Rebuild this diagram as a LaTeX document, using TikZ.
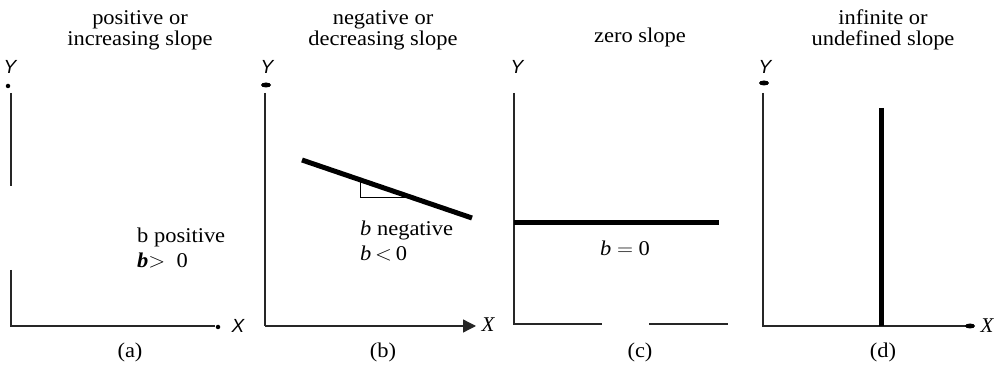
\documentclass[tikz,border=0pt]{standalone}
\usepackage{amsmath}
\usepackage{fontspec}
\setmainfont{Liberation Serif}
\newfontfamily\axfont{Liberation Sans}
\usepackage{graphicx}
\usetikzlibrary{arrows.meta,shapes.geometric}
\newcommand{\wt}[1]{\scalebox{1.07}[1]{#1}}
\begin{document}
\begin{tikzpicture}[x=1pt,y=-1pt,
  axis/.style={line width=1.3pt, draw=black!85},
  heavy/.style={line width=5pt},
  txt/.style={font=\fontsize{21}{23}\selectfont, inner sep=0pt, anchor=base},
  axlbl/.style={font=\axfont\itshape\fontsize{19}{21}\selectfont, inner sep=0pt},
  serlbl/.style={font=\itshape\fontsize{21}{23}\selectfont, inner sep=0pt},
  dotsmall/.style={fill=black, circle, inner sep=0pt, minimum size=4.5pt},
  dotwide/.style={fill=black, ellipse, inner sep=0pt, minimum width=10pt, minimum height=5pt}]
\useasboundingbox (0,0) rectangle (997,366);
% ---------- (a)
\node[txt] (ta1) at (140,25) {\wt{positive or}};
\node[txt] (ta2) at (140,46) {\wt{increasing slope}};
\node[axlbl] (ya) at (10,67) {Y};
\node[dotsmall] (yda) at (8,86) {};
\coordinate (a1) at (11,93);
\coordinate (a2) at (11,186);
\coordinate (a3) at (11,270);
\coordinate (o-a) at (11,326);
\coordinate (xa) at (215,326);
\draw[axis] (a1) -- (a2);
\draw[axis] (a3) -- (o-a) -- (xa);
\node[dotsmall] (xda) at (218,327) {};
\node[axlbl] (xla) at (238,326) {X};
\node[txt,anchor=base west] (pa1) at (137,243) {\wt{b positive}};
\node[txt,anchor=base west] (pa2) at (137,268) {\wt{\textbf{\textit{b}}$>$\ \ 0}};
\node[txt] (ca) at (130,358) {\wt{(a)}};
% ---------- (b)
\node[txt] (tb1) at (383,25) {\wt{negative or}};
\node[txt] (tb2) at (383,46) {\wt{decreasing slope}};
\node[axlbl] (yb) at (267,67) {Y};
\node[dotwide] (ydb) at (266,85) {};
\coordinate (b1) at (265,93);
\coordinate (o-b) at (265,326);
\coordinate (xb) at (476,326);
\draw[axis] (b1) -- (o-b);
\draw[axis,-{Triangle[length=13pt,width=13pt]}] (o-b) -- (xb);
\node[serlbl] (xlb) at (488,325) {X};
\coordinate (lb1) at (302,160);
\coordinate (lb2) at (472,218);
\draw[heavy] (lb1) -- (lb2);
\coordinate (tr1) at (360,180);
\coordinate (tr2) at (360,198);
\coordinate (tr3) at (413,198);
\draw[line width=1pt] (tr1) -- (tr2) -- (tr3);
\node[txt,anchor=base west] (nb1) at (360,236) {\wt{\textit{b} negative}};
\node[txt,anchor=base west] (nb2) at (360,261) {\wt{\textit{b}\,$<$\,0}};
\node[txt] (cb) at (383,358) {\wt{(b)}};
% ---------- (c)
\node[txt] (tc1) at (640,43) {\wt{zero slope}};
\node[axlbl] (yc) at (517,67) {Y};
\coordinate (c1) at (514,93);
\coordinate (o-c) at (514,324);
\coordinate (xc1) at (602,324);
\coordinate (xc2) at (649,324);
\coordinate (xc3) at (728,324);
\draw[axis] (c1) -- (o-c) -- (xc1);
\draw[axis] (xc2) -- (xc3);
\coordinate (lc1) at (514,223);
\coordinate (lc2) at (719,223);
\draw[heavy] (lc1) -- (lc2);
\node[txt] (nc) at (625,256) {\wt{\textit{b} $=$ 0}};
\node[txt] (cc) at (640,358) {\wt{(c)}};
% ---------- (d)
\node[txt] (td1) at (883,25) {\wt{infinite or}};
\node[txt] (td2) at (883,46) {\wt{undefined slope}};
\node[axlbl] (yd) at (765,67) {Y};
\node[dotwide] (ydd) at (764,83) {};
\coordinate (d1) at (763,93);
\coordinate (o-d) at (763,326);
\coordinate (xd) at (966,326);
\draw[axis] (d1) -- (o-d) -- (xd);
\node[dotwide] (xdd) at (970,326) {};
\node[serlbl] (xld) at (987,326) {X};
\coordinate (ld1) at (881,108);
\coordinate (ld2) at (881,326);
\draw[heavy] (ld1) -- (ld2);
\node[txt] (cd) at (883,358) {\wt{(d)}};
\end{tikzpicture}
\end{document}
